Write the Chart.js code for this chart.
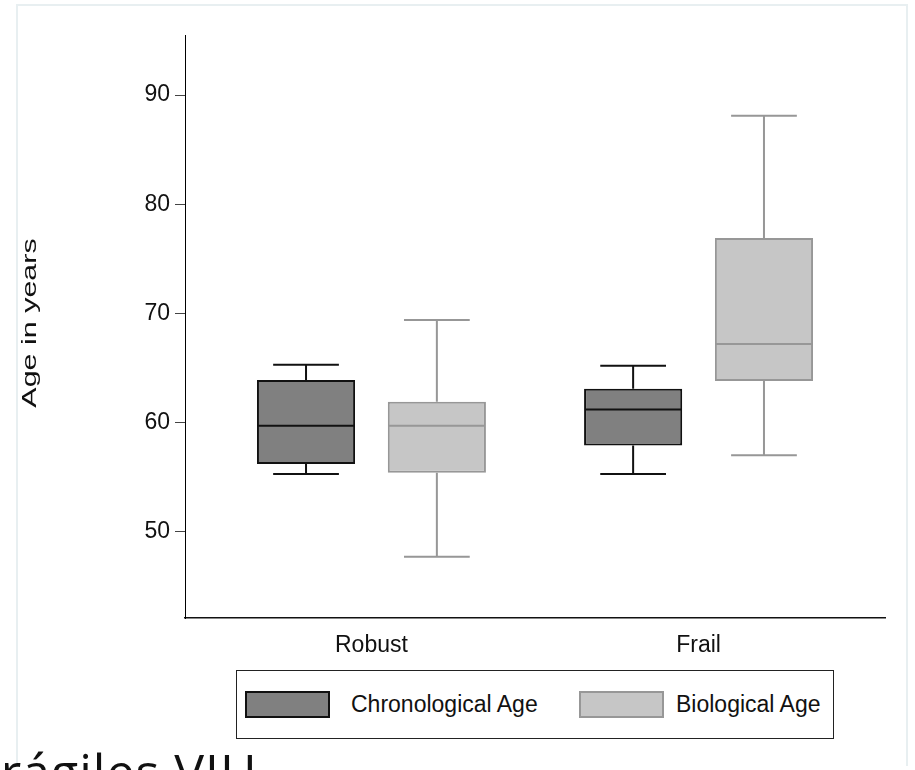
<!DOCTYPE html>
<html>
<head>
<meta charset="utf-8">
<title>Age in years: Robust vs Frail</title>
<script src="https://cdn.jsdelivr.net/npm/chart.js@4.4.1/dist/chart.umd.min.js"></script>
<style>
  html, body { margin: 0; padding: 0; background: #fff; }
  body { width: 915px; height: 770px; position: relative; overflow: hidden; font-family: 'Liberation Sans', Arial, sans-serif; }
  .frame { position: absolute; left: 16px; top: 4px; width: 888px; height: 760px; border: 2px solid #e8eff1; border-bottom: none; }
  #chart { position: absolute; left: 0; top: 0; }
  .legend { position: absolute; left: 236px; top: 670px; width: 598px; height: 69px; box-sizing: border-box; border: 1px solid #222; background: #fff; }
  .legend .sw { position: absolute; top: 20px; width: 85px; height: 27px; box-sizing: border-box; border: 2px solid; }
  .legend .lbl { position: absolute; top: 0; height: 67px; line-height: 67px; font-size: 23px; color: #111; white-space: nowrap; }
  .caption { position: absolute; left: -26px; top: 746px; font: 50px/1 'Open Sans', sans-serif; letter-spacing: 1px; color: #111; white-space: nowrap; }
</style>
</head>
<body>
<div class="frame"></div>
<canvas id="chart" width="915" height="660"></canvas>
<div class="legend" id="legend"></div>
<div class="caption">Frágiles VIH</div>

<script>
const categories = ['Robust', 'Frail'];
const seriesNames = ['Chronological Age', 'Biological Age'];
const yTicks = [50, 60, 70, 80, 90];
const yTitleText = 'Age in years';

// box plot summaries, one value per category
const chronoLow = [55.3, 55.3];
const chronoQ1 = [56.2, 57.9];
const chronoMedian = [59.7, 61.2];
const chronoQ3 = [63.9, 63.1];
const chronoHigh = [65.3, 65.2];

const bioLow = [47.7, 57.0];
const bioQ1 = [55.4, 63.8];
const bioMedian = [59.7, 67.2];
const bioQ3 = [61.9, 76.9];
const bioHigh = [69.4, 88.1];

const fillColors = ['#808080', '#c6c6c6'];
const lineColors = ['#111111', '#979797'];
const fontFamily = "'Liberation Sans', Arial, sans-serif";

function boxData(q1, q3) {
  return categories.map((c, i) => ({ x: i, y: [q1[i], q3[i]] }));
}

// whiskers, caps and the median line, placed with the chart's own scales
const whiskers = {
  id: 'whiskers',
  afterDatasetsDraw(chart) {
    const { ctx } = chart;
    const y = chart.scales.y;
    chart.data.datasets.forEach((ds, d) => {
      const meta = chart.getDatasetMeta(d);
      meta.data.forEach((bar, i) => {
        const { x, width } = bar.getProps(['x', 'width'], true);
        const pLow = y.getPixelForValue(ds.low[i]);
        const pHigh = y.getPixelForValue(ds.high[i]);
        const pQ1 = y.getPixelForValue(ds.data[i].y[0]);
        const pQ3 = y.getPixelForValue(ds.data[i].y[1]);
        const pMed = y.getPixelForValue(ds.median[i]);
        const cap = width * 0.335;
        ctx.save();
        ctx.strokeStyle = ds.borderColor;
        ctx.lineWidth = 2;
        ctx.beginPath();
        ctx.moveTo(x, pQ3); ctx.lineTo(x, pHigh);
        ctx.moveTo(x, pQ1); ctx.lineTo(x, pLow);
        ctx.moveTo(x - cap, pHigh); ctx.lineTo(x + cap, pHigh);
        ctx.moveTo(x - cap, pLow); ctx.lineTo(x + cap, pLow);
        ctx.moveTo(x - width / 2 + 1, pMed); ctx.lineTo(x + width / 2 - 1, pMed);
        ctx.stroke();
        ctx.restore();
      });
    });
  }
};

// the y title is drawn a little stretched, like the original export
const yTitle = {
  id: 'yTitle',
  afterDraw(chart) {
    const { ctx } = chart;
    ctx.save();
    ctx.translate(30, 323);
    ctx.rotate(-Math.PI / 2);
    ctx.scale(1.45, 1);
    ctx.font = `21px ${fontFamily}`;
    ctx.fillStyle = '#111';
    ctx.textAlign = 'center';
    ctx.textBaseline = 'middle';
    ctx.fillText(yTitleText, 0, 0);
    ctx.restore();
  }
};

new Chart(document.getElementById('chart'), {
  type: 'bar',
  data: {
    datasets: [
      {
        label: seriesNames[0],
        data: boxData(chronoQ1, chronoQ3),
        low: chronoLow, median: chronoMedian, high: chronoHigh,
        backgroundColor: fillColors[0],
        borderColor: lineColors[0],
      },
      {
        label: seriesNames[1],
        data: boxData(bioQ1, bioQ3),
        low: bioLow, median: bioMedian, high: bioHigh,
        backgroundColor: fillColors[1],
        borderColor: lineColors[1],
      },
    ],
  },
  options: {
    responsive: false,
    animation: false,
    layout: { padding: { left: 0, right: 30, top: 35, bottom: 0 } },
    datasets: {
      bar: { borderWidth: 2, borderSkipped: false, barPercentage: 0.75, categoryPercentage: 0.8 },
    },
    plugins: {
      legend: { display: false },
      tooltip: { enabled: false },
    },
    scales: {
      x: {
        type: 'linear',
        offset: false,
        min: -0.57,
        max: 1.57,
        afterBuildTicks: (s) => { s.ticks = categories.map((c, i) => ({ value: i })); },
        afterFit: (s) => { s.height = 42; },
        ticks: {
          callback: (v) => categories[v],
          font: { size: 23, family: fontFamily },
          color: '#111',
          padding: 14,
          maxRotation: 0,
          autoSkip: false,
        },
        grid: { display: false, drawTicks: false },
        border: { color: '#111', width: 1.5 },
      },
      y: {
        min: 42.1,
        max: 95.5,
        afterBuildTicks: (s) => { s.ticks = yTicks.map((v) => ({ value: v })); },
        afterFit: (s) => { s.width = 185; },
        ticks: {
          font: { size: 23, family: fontFamily },
          color: '#111',
          padding: 5,
        },
        grid: { drawOnChartArea: false, tickLength: 10, tickColor: '#444', tickWidth: 1 },
        border: { color: '#000', width: 1 },
      },
    },
  },
  plugins: [whiskers, yTitle],
});

// legend box under the axis
const swLeft = [8, 342];
const lblLeft = [114, 439];
document.getElementById('legend').innerHTML = seriesNames.map((name, i) => `
  <div class="sw" style="left:${swLeft[i]}px;background:${fillColors[i]};border-color:${lineColors[i]}"></div>
  <div class="lbl" style="left:${lblLeft[i]}px">${name}</div>
`).join('');
</script>
</body>
</html>
